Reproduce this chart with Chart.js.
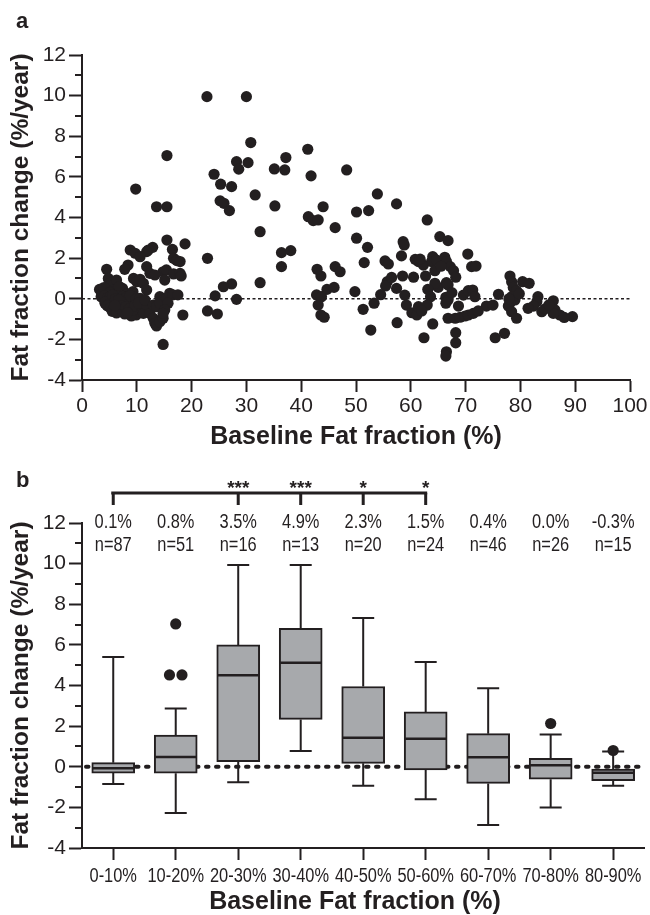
<!DOCTYPE html>
<html><head><meta charset="utf-8">
<script src="https://cdn.jsdelivr.net/npm/chart.js@4"></script>
<style>
html,body{margin:0;padding:0;background:#fff;}
#wrapA{position:absolute;left:0;top:0;width:650px;height:450px;}
#wrapB{position:absolute;left:0;top:450px;width:650px;height:465px;}
</style></head><body>
<div id="wrapA"><canvas id="cA" width="650" height="450"></canvas></div>
<div id="wrapB"><canvas id="cB" width="650" height="465"></canvas></div>
<script>
// ---------- Panel a: scatter data [baseline FF %, change %/year] ----------
const scatter0to10 = [
[9.8,5.4],[8.8,2.4],[9.7,2.24],[8.4,1.66],[7.8,1.45],[9.4,1.0],[4.5,1.45],[4.8,1.0],[5.1,0.76],[6.3,0.92],
[7.4,0.51],[3.2,0.46],[3.6,0.27],[3.9,0.02],[4.5,-0.06],[4.2,-0.22],[5.7,0.43],[6.0,0.1],[5.7,-0.22],[6.0,-0.55],
[6.6,0.27],[6.9,-0.06],[6.6,-0.39],[7.8,0.1],[8.4,-0.15],[8.1,-0.47],[8.8,-0.64],[9.1,0.1],[9.7,-0.06],[9.4,-0.39],
[9.9,-0.8],[4.0,0.55],[5.3,0.35],[7.0,0.3],[8.2,0.25],[5.0,0.3],[9.3,0.35],[6.8,0.6],
[3.5,0.1],[4.1,0.15],[4.7,0.05],[5.0,-0.1],[5.2,0.12],[5.4,-0.2],[5.5,0.0],[5.9,-0.12],[6.2,0.05],[6.3,-0.25],
[6.5,0.15],[6.8,-0.15],[7.0,0.0],[7.1,-0.28],[7.3,-0.1],[7.5,0.12],[7.7,-0.2],[8.0,-0.05],[8.2,0.08],[8.4,-0.28],
[8.6,0.0],[8.9,-0.2],[9.2,-0.1],[9.5,0.1],[9.8,-0.25],[4.3,-0.15],[4.9,-0.28],[5.6,0.18],[6.1,-0.02],[7.9,-0.12],
[8.8,0.15],[9.9,0.0],[6.7,-0.05],
[4.6,-0.35],[5.2,-0.45],[5.5,-0.62],[5.9,-0.4],[6.3,-0.7],[6.9,-0.5],[7.2,-0.35],[7.4,-0.6],[7.8,-0.75],[8.0,-0.4],
[8.6,-0.5],[9.0,-0.85],[9.3,-0.55],[9.6,-0.35],[6.0,-0.33],[8.3,-0.68]
];
const scatter10to20 = [
[13.6,4.53],[15.5,4.53],[15.5,7.05],[18.8,2.7],[15.5,2.89],[16.5,2.43],[16.7,1.99],[17.3,1.88],[17.9,1.83],[12.9,2.53],
[12.1,2.4],[11.8,2.32],[10.6,2.07],[14.8,1.33],[15.4,1.42],[11.8,1.58],[12.4,1.25],[13.3,1.17],[16.7,1.22],[17.9,1.25],
[18.1,1.12],[15.1,0.92],[10.0,0.84],[10.6,0.96],[11.2,0.76],[11.8,0.43],[10.6,0.02],[10.9,-0.39],[11.2,-0.72],[10.3,-0.22],
[11.8,-0.31],[11.5,-0.06],[12.4,-0.72],[13.0,-0.96],[13.3,-1.21],[13.6,-1.34],[14.2,-1.13],[14.8,-0.96],[13.0,-0.31],[13.6,-0.39],
[14.2,0.1],[14.8,-0.06],[14.2,-0.22],[15.4,0.02],[16.0,0.27],[16.6,0.19],[17.5,0.19],[15.7,-0.22],[15.1,-0.55],[14.8,-0.72],
[18.4,-0.8],[14.8,-2.25]
];
const scatter20to30 = [
[22.8,9.95],[24.1,6.13],[25.3,5.64],[27.3,5.52],[25.2,4.82],[25.9,4.70],[26.9,4.34],[28.2,6.75],[28.6,6.38],[22.9,1.99],
[27.3,0.73],[25.8,0.59],[24.3,0.14],[28.2,-0.03],[22.9,-0.6],[24.7,-0.75]
];
const scatter30to40 = [
[30.0,9.95],[30.3,6.70],[30.8,7.69],[31.6,5.11],[35.1,6.39],[35.2,4.57],[37.2,6.95],[37.0,6.34],[32.5,3.3],[36.4,2.27],
[38.1,2.37],[36.4,1.58],[32.5,0.79]
];
const scatter40to50 = [
[41.2,7.36],[41.8,6.05],[41.3,4.04],[42.2,3.85],[43.1,3.88],[44.0,4.53],[48.3,6.34],[46.2,3.5],[46.2,1.58],[47.1,1.33],
[43.6,1.12],[44.7,0.46],[46.0,0.56],[42.8,0.19],[43.7,0.1],[43.1,-0.31],[43.6,-0.8],[44.2,-0.91],[49.8,0.35],[42.9,1.45]
];
const scatter50to60 = [
[50.1,4.27],[52.3,4.34],[53.9,5.16],[57.4,4.67],[50.1,2.98],[52.1,2.53],[58.6,2.81],[58.8,2.65],[51.5,1.78],[55.3,1.86],
[55.9,1.71],[58.3,2.11],[58.5,1.12],[55.7,0.84],[55.4,0.63],[57.4,0.51],[58.9,0.18],[51.3,-0.52],[53.3,-0.22],[52.7,-1.54],
[59.2,-0.31],[57.5,-1.18],[54.5,0.2],[56.5,1.05]
];
const scatter60to70 = [
[63.0,3.88],[65.3,3.06],[66.8,2.86],[60.8,1.94],[61.4,1.83],[62.3,1.66],[64.0,2.07],[63.8,1.83],[64.7,1.9],[66.2,2.04],
[66.5,1.83],[67.2,1.58],[67.8,1.38],[68.2,1.06],[64.4,1.38],[60.5,1.06],[62.7,1.12],[65.0,0.56],[64.4,0.76],[63.1,0.46],
[66.5,0.79],[66.8,0.68],[63.6,0.1],[66.4,0.07],[66.8,-0.06],[69.6,0.18],[60.2,-0.69],[61.1,-0.8],[61.4,-0.39],[62.4,-1.92],
[64.0,-1.24],[63.0,-0.31],[66.4,-0.22],[68.7,-0.36],[66.8,-0.96],[68.1,-0.96],[69.0,-0.91],[69.9,-0.85],[68.2,-1.67],[68.2,-2.17],
[66.5,-2.61],[66.4,-2.82],[61.7,1.95],[65.5,1.6],[67.5,0.3],[62.0,-0.6]
];
const scatter70to80 = [
[70.4,2.2],[71.1,1.58],[71.9,1.61],[70.5,0.40],[71.3,0.43],[71.7,0.1],[70.5,-0.8],[71.4,-0.72],[76.0,0.22],[78.1,1.12],
[78.4,0.84],[78.7,0.56],[79.3,0.40],[78.4,0.10],[79.0,-0.06],[78.1,-0.22],[73.8,-0.36],[75.0,-0.31],[77.8,-0.36],[78.4,-0.64],
[79.3,-0.96],[75.4,-1.92],[77.1,-1.7],[77.9,0.0],[79.8,0.25],[72.3,-0.6]
];
const scatter80to90 = [
[80.4,0.84],[81.6,0.76],[83.2,0.1],[83.0,-0.15],[82.4,-0.36],[81.4,-0.47],[83.9,-0.64],[86.0,-0.1],[86.3,-0.55],[87.2,-0.8],
[89.5,-0.88],[86.0,-0.72],[84.5,-0.5],[85.2,-0.3],[88.0,-0.92]
];

// ---------- Panel b: box plot data ----------
const categories = ['0-10%','10-20%','20-30%','30-40%','40-50%','50-60%','60-70%','70-80%','80-90%'];
const boxMin    = [-0.85, -2.28, -0.76, 0.77, -0.93, -1.6, -2.87, -2.0, -0.94];
const boxQ1     = [-0.31, -0.32,  0.25, 2.33,  0.17, -0.15, -0.82, -0.61, -0.68];
const boxMedian = [-0.07,  0.48,  4.5,  5.12,  1.43,  1.38,  0.47,  0.07, -0.3];
const boxQ3     = [ 0.2,   1.56,  6.0,  6.82,  3.95,  2.7,   1.63,  0.41, -0.12];
const boxMax    = [ 5.4,   2.87,  9.93, 9.93,  7.32,  5.16,  3.87,  1.59,  0.75];
const outlierPoints = [[1,7.03],[0.9,4.52],[1.1,4.52],[7,2.13],[8,0.8]];
const meanLabels = ['0.1%','0.8%','3.5%','4.9%','2.3%','1.5%','0.4%','0.0%','-0.3%'];
const nLabels = ['n=87','n=51','n=16','n=13','n=20','n=24','n=46','n=26','n=15'];
const sigStars = ['','','***','***','*','*','','',''];
const bracketFrom = 0, bracketTo = 5;

const yTicksMajor = [-4,-2,0,2,4,6,8,10,12];
const yTicksMinor = [-3,-1,1,3,5,7,9,11];

// ---------- styles ----------
const INK = '#231f20';
const FAM = '"Liberation Sans", Arial, Helvetica, sans-serif';
const tickFont = {family: FAM, size: 21};
const titleFont = {family: FAM, size: 25, weight: 'bold'};
const yTitleFont = {family: FAM, size: 24.5, weight: 'bold'};
Chart.defaults.color = INK;

function axisGrid(len){ return {drawOnChartArea:false, drawTicks:true, tickLength:len, tickWidth:2, tickColor:INK}; }
const axisBorder = {display:true, color:INK, width:2};

// condensed text: regular face squeezed horizontally
function narrowText(ctx, text, x, y, size){
  ctx.save(); ctx.translate(x, y); ctx.scale(0.82, 1);
  ctx.font = size + 'px ' + FAM; ctx.textAlign = 'center'; ctx.textBaseline = 'middle';
  ctx.fillText(text, 0, 0); ctx.restore();
}

const minorTicksPlugin = {
  id:'minorTicks',
  afterDraw(chart){
    const ctx = chart.ctx, y = chart.scales.y, left = chart.chartArea.left;
    ctx.save(); ctx.strokeStyle = INK; ctx.lineWidth = 2;
    yTicksMinor.forEach(v=>{
      const py = Math.round(y.getPixelForValue(v));
      ctx.beginPath(); ctx.moveTo(left-7, py); ctx.lineTo(left, py); ctx.stroke();
    });
    ctx.restore();
  }
};

// ---------- Chart a ----------
const allScatter = [].concat(scatter0to10, scatter10to20, scatter20to30, scatter30to40, scatter40to50,
  scatter50to60, scatter60to70, scatter70to80, scatter80to90).map(p=>({x:p[0], y:p[1]}));

new Chart(document.getElementById('cA'), {
  type:'scatter',
  data:{datasets:[{data:allScatter, pointRadius:5.6, pointHoverRadius:5.6, backgroundColor:INK, borderWidth:0}]},
  options:{
    responsive:false, animation:false, events:[],
    layout:{padding:{left:0, top:55, right:20, bottom:0}},
    plugins:{legend:{display:false}, tooltip:{enabled:false}},
    scales:{
      x:{type:'linear', min:0, max:100,
         ticks:{stepSize:10, color:INK, font:tickFont, padding:2, maxRotation:0, autoSkip:false},
         grid:axisGrid(12), border:axisBorder,
         title:{display:true, text:'Baseline Fat fraction (%)', font:titleFont, color:INK, padding:{top:0,bottom:-2}},
         afterFit(s){ s.height = 70; }},
      y:{type:'linear', min:-4, max:12,
         afterBuildTicks(s){ s.ticks = yTicksMajor.map(v=>({value:v})); },
         ticks:{color:INK, font:tickFont, padding:3},
         grid:axisGrid(13), border:axisBorder,
         title:{display:true, text:'Fat fraction change (%/year)', font:yTitleFont, color:INK, padding:{top:7,bottom:0}},
         afterFit(s){ s.width = 82; }}
    }
  },
  plugins:[minorTicksPlugin, {
    id:'zeroA',
    beforeDatasetsDraw(chart){
      const ctx = chart.ctx, a = chart.chartArea, py = chart.scales.y.getPixelForValue(0);
      ctx.save(); ctx.strokeStyle = INK; ctx.lineWidth = 1.3; ctx.setLineDash([3,2.5]);
      ctx.beginPath(); ctx.moveTo(a.left, py); ctx.lineTo(a.right, py); ctx.stroke(); ctx.restore();
    },
    afterDraw(chart){
      const ctx = chart.ctx; ctx.save(); ctx.fillStyle = INK;
      ctx.font = 'bold 22px ' + FAM; ctx.textBaseline = 'alphabetic'; ctx.fillText('a', 16, 28);
      ctx.restore();
    }
  }]
});

// ---------- Chart b ----------
new Chart(document.getElementById('cB'), {
  type:'bar',
  data:{
    labels:categories,
    datasets:[
      {type:'bar', data:categories.map((c,i)=>[boxQ1[i], boxQ3[i]]), backgroundColor:'#a7a9ac',
       borderColor:INK, borderWidth:2, borderSkipped:false, barThickness:43, grouped:false},
      {type:'scatter', xAxisID:'xo', data:outlierPoints.map(p=>({x:p[0], y:p[1]})),
       pointRadius:5.6, pointHoverRadius:5.6, backgroundColor:INK, borderWidth:0, showLine:false}
    ]
  },
  options:{
    responsive:false, animation:false, events:[],
    layout:{padding:{left:0, top:73, right:2, bottom:0}},
    plugins:{legend:{display:false}, tooltip:{enabled:false}},
    scales:{
      x:{type:'category', offset:true,
         ticks:{display:false},
         grid:Object.assign(axisGrid(12), {offset:false}), border:axisBorder,
         afterFit(s){ s.height = 67; }},
      xo:{type:'linear', display:false, offset:false, min:-0.5, max:8.5},
      y:{type:'linear', min:-4, max:12,
         afterBuildTicks(s){ s.ticks = yTicksMajor.map(v=>({value:v})); },
         ticks:{color:INK, font:tickFont, padding:3},
         grid:axisGrid(13), border:axisBorder,
         title:{display:true, text:'Fat fraction change (%/year)', font:yTitleFont, color:INK, padding:{top:7,bottom:0}},
         afterFit(s){ s.width = 82; }}
    }
  },
  plugins:[minorTicksPlugin, {
    id:'boxParts',
    beforeDatasetsDraw(chart){
      const ctx = chart.ctx, a = chart.chartArea, x = chart.scales.x, y = chart.scales.y;
      ctx.save();
      // dotted zero line
      ctx.strokeStyle = INK; ctx.lineWidth = 4; ctx.lineCap = 'round'; ctx.setLineDash([2.5,7.5]);
      const py0 = y.getPixelForValue(0);
      ctx.beginPath(); ctx.moveTo(a.left+4, py0); ctx.lineTo(a.right, py0); ctx.stroke();
      // whiskers
      ctx.setLineDash([]); ctx.lineCap = 'butt'; ctx.lineWidth = 2;
      categories.forEach((c,i)=>{
        const px = x.getPixelForValue(i);
        const pMax = y.getPixelForValue(boxMax[i]), pMin = y.getPixelForValue(boxMin[i]);
        const pQ3 = y.getPixelForValue(boxQ3[i]), pQ1 = y.getPixelForValue(boxQ1[i]);
        ctx.beginPath();
        ctx.moveTo(px, pQ3); ctx.lineTo(px, pMax);
        ctx.moveTo(px-11, pMax); ctx.lineTo(px+11, pMax);
        ctx.moveTo(px, pQ1); ctx.lineTo(px, pMin);
        ctx.moveTo(px-11, pMin); ctx.lineTo(px+11, pMin);
        ctx.stroke();
      });
      ctx.restore();
    },
    afterDatasetsDraw(chart){
      const ctx = chart.ctx, y = chart.scales.y;
      const meta = chart.getDatasetMeta(0);
      ctx.save(); ctx.strokeStyle = INK; ctx.lineWidth = 2.5;
      categories.forEach((c,i)=>{
        const bar = meta.data[i]; const half = bar.width/2;
        const pm = y.getPixelForValue(boxMedian[i]);
        ctx.beginPath(); ctx.moveTo(bar.x-half+1, pm); ctx.lineTo(bar.x+half-1, pm); ctx.stroke();
      });
      ctx.restore();
    },
    afterDraw(chart){
      const ctx = chart.ctx, x = chart.scales.x, a = chart.chartArea;
      ctx.save(); ctx.fillStyle = INK; ctx.strokeStyle = INK;
      ctx.font = 'bold 22px ' + FAM; ctx.textBaseline = 'alphabetic'; ctx.textAlign = 'left';
      ctx.fillText('b', 16, 37);
      // category tick labels, mean and n labels
      categories.forEach((c,i)=>{
        const px = x.getPixelForValue(i);
        narrowText(ctx, c, px, a.bottom + 28, 20);
        narrowText(ctx, meanLabels[i], px, 72, 20);
        narrowText(ctx, nLabels[i], px, 95, 20);
      });
      // significance bracket
      const xl = x.getPixelForValue(bracketFrom), xr = x.getPixelForValue(bracketTo);
      ctx.lineWidth = 3;
      ctx.beginPath(); ctx.moveTo(xl-2, 43); ctx.lineTo(xr+1.5, 43); ctx.stroke();
      ctx.beginPath(); ctx.moveTo(xl, 43); ctx.lineTo(xl, 55);
      sigStars.forEach((s,i)=>{ if(s){ const px = x.getPixelForValue(i); ctx.moveTo(px,43); ctx.lineTo(px,55);} });
      ctx.stroke();
      ctx.font = 'bold 19px ' + FAM; ctx.textBaseline = 'alphabetic'; ctx.textAlign = 'center';
      sigStars.forEach((s,i)=>{ if(s){ ctx.fillText(s, x.getPixelForValue(i), 44); } });
      // x axis title
      ctx.font = 'bold 25px ' + FAM; ctx.textBaseline = 'middle';
      ctx.fillText('Baseline Fat fraction (%)', 355, 452);
      ctx.restore();
    }
  }]
});
</script>
</body></html>
